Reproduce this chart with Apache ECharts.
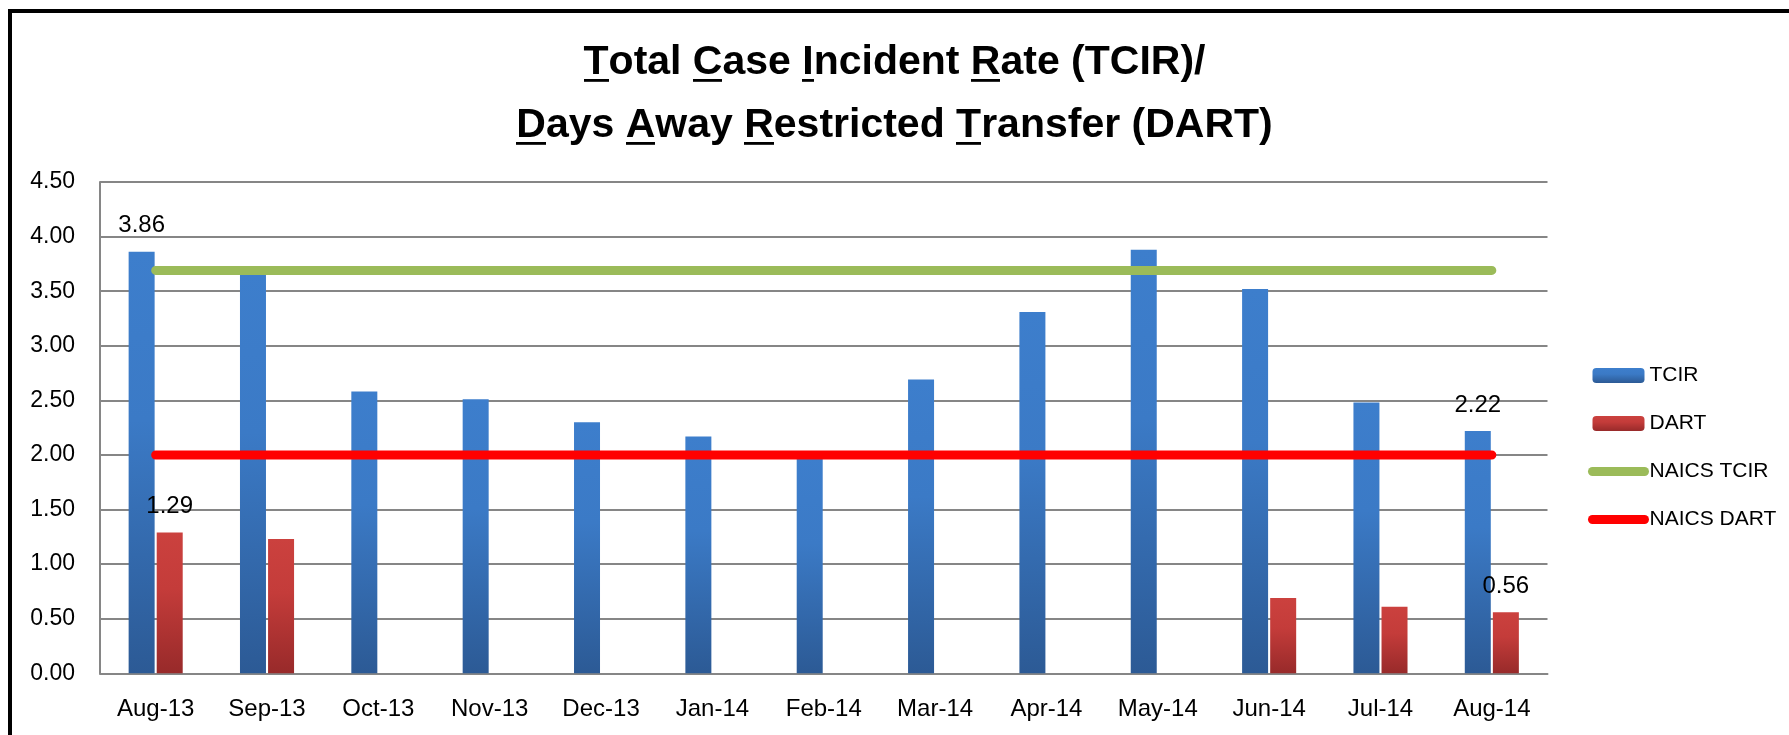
<!DOCTYPE html>
<html>
<head>
<meta charset="utf-8">
<script src="https://cdn.jsdelivr.net/npm/echarts@6/dist/echarts.min.js"></script>
<style>
html,body{margin:0;padding:0;background:#fff;}
#chart{width:1789px;height:735px;}
</style>
</head>
<body>
<div id="chart"></div>
<script>
const categories = ['Aug-13','Sep-13','Oct-13','Nov-13','Dec-13','Jan-14','Feb-14','Mar-14','Apr-14','May-14','Jun-14','Jul-14','Aug-14'];
const tcirValues = [3.86, 3.67, 2.58, 2.51, 2.30, 2.17, 1.98, 2.69, 3.31, 3.88, 3.52, 2.48, 2.22];
const dartValues = [1.29, 1.23, null, null, null, null, null, null, null, null, 0.69, 0.61, 0.56];
const naicsTcirValues = [3.69, 3.69, 3.69, 3.69, 3.69, 3.69, 3.69, 3.69, 3.69, 3.69, 3.69, 3.69, 3.69];
const naicsDartValues = [2.00, 2.00, 2.00, 2.00, 2.00, 2.00, 2.00, 2.00, 2.00, 2.00, 2.00, 2.00, 2.00];
const tcirLabelIndex = [0, 12];
const dartLabelIndex = [0, 12];
const yAxisMin = 0, yAxisMax = 4.5, yAxisStep = 0.5;
const seriesNames = ['TCIR', 'DART', 'NAICS TCIR', 'NAICS DART'];

const FONT = "'Liberation Sans', Arial, sans-serif";

function underlineImage() {
  const c = document.createElement('canvas');
  c.width = 8; c.height = 63;
  const ctx = c.getContext('2d');
  ctx.fillStyle = '#000';
  ctx.fillRect(0, 57, 8, 4);
  return c;
}
const ul = underlineImage();

function withLabels(values, idx) {
  return values.map((v, i) => {
    if (v === null) return '-';
    if (idx.indexOf(i) >= 0) {
      return { value: v, label: { show: true, position: 'top', distance: 14, fontSize: 24, fontFamily: FONT, color: '#000', formatter: (p) => p.value.toFixed(2) } };
    }
    return v;
  });
}

const chart = echarts.init(document.getElementById('chart'), null, { renderer: 'canvas' });
const titleStyle = { fontSize: 41, fontWeight: 'bold', fontFamily: FONT, color: '#000', lineHeight: 63 };
chart.setOption({
  animation: false,
  backgroundColor: '#fff',
  title: {
    left: 'center',
    top: 26,
    padding: [5, 5, 5, 19],
    text: '{u|T}otal {u|C}ase {u|I}ncident {u|R}ate (TCIR)/\n{u|D}ays {u|A}way {u|R}estricted {u|T}ransfer (DART)',
    textStyle: Object.assign({}, titleStyle, {
      rich: { u: Object.assign({}, titleStyle, { backgroundColor: { image: ul } }) }
    })
  },
  graphic: [{
    type: 'rect', silent: true, z: 100,
    shape: { x: 10, y: 11, width: 1800, height: 800 },
    style: { fill: 'none', stroke: '#000', lineWidth: 4 }
  }],
  legend: {
    orient: 'vertical',
    left: 1583,
    top: 360,
    itemWidth: 52,
    itemHeight: 15,
    itemGap: 27,
    data: [
      { name: seriesNames[0] },
      { name: seriesNames[1] },
      { name: seriesNames[2], itemStyle: { opacity: 0 } },
      { name: seriesNames[3], itemStyle: { opacity: 0 } }
    ],
    textStyle: { fontSize: 21, fontFamily: FONT, color: '#000' },
    lineStyle: { width: 9, cap: 'round' }
  },
  grid: { left: 100, right: 241.5, top: 182, bottom: 61.7 },
  xAxis: {
    type: 'category',
    data: categories,
    axisLine: { lineStyle: { color: '#868686', width: 2 } },
    axisTick: { show: false },
    axisLabel: { fontSize: 24, fontFamily: FONT, color: '#000', margin: 24, interval: 0 }
  },
  yAxis: {
    type: 'value',
    min: yAxisMin, max: yAxisMax, interval: yAxisStep,
    axisLine: { show: true, lineStyle: { color: '#868686', width: 2 } },
    axisTick: { show: false },
    splitLine: { lineStyle: { color: '#868686', width: 2 } },
    axisLabel: { fontSize: 23, fontFamily: FONT, color: '#000', margin: 25, formatter: (v) => v.toFixed(2) }
  },
  series: [
    {
      name: seriesNames[0], type: 'bar', barWidth: 26, barGap: '8%',
      data: withLabels(tcirValues, tcirLabelIndex),
      itemStyle: { color: new echarts.graphic.LinearGradient(0, 0, 0, 1, [
        { offset: 0, color: '#3D7ECC' }, { offset: 0.4, color: '#3B7AC6' }, { offset: 1, color: '#2C5A95' }]) }
    },
    {
      name: seriesNames[1], type: 'bar', barWidth: 26, barGap: '8%',
      data: withLabels(dartValues, dartLabelIndex),
      itemStyle: { color: new echarts.graphic.LinearGradient(0, 0, 0, 1, [
        { offset: 0, color: '#CB413E' }, { offset: 0.4, color: '#C43C3A' }, { offset: 1, color: '#982A2A' }]) }
    },
    {
      name: seriesNames[2], type: 'line', symbol: 'none', data: naicsTcirValues,
      lineStyle: { color: '#9BBB59', width: 9, cap: 'round' }, itemStyle: { color: '#9BBB59' }
    },
    {
      name: seriesNames[3], type: 'line', symbol: 'none', data: naicsDartValues,
      lineStyle: { color: '#FF0000', width: 9, cap: 'round' }, itemStyle: { color: '#FF0000' }
    }
  ]
});
</script>
</body>
</html>
